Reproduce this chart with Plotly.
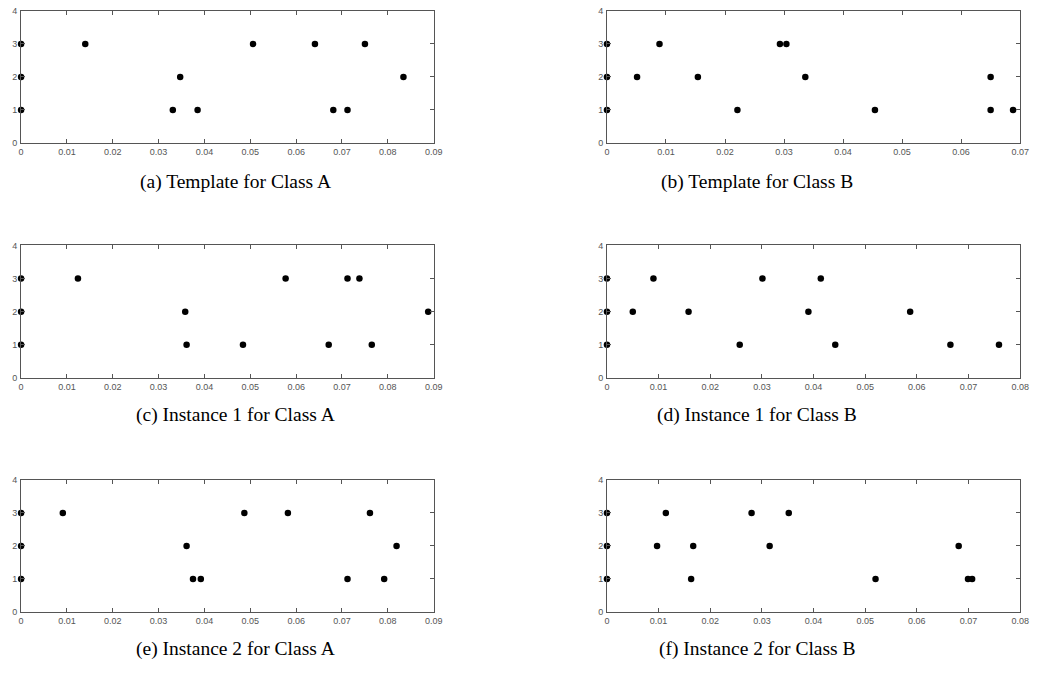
import plotly.graph_objects as go

W, H = 1042, 683

# ---- data (x values for each y level) ----
levels = [3, 2, 1]

a_x3 = [0.0, 0.0140, 0.0506, 0.0641, 0.0750]
a_x2 = [0.0, 0.0347, 0.0834]
a_x1 = [0.0, 0.0331, 0.0385, 0.0681, 0.0712]

b_x3 = [0.0, 0.0089, 0.0293, 0.0304]
b_x2 = [0.0, 0.0051, 0.0154, 0.0336, 0.0650]
b_x1 = [0.0, 0.0221, 0.0454, 0.0650, 0.0688]

c_x3 = [0.0, 0.0124, 0.0577, 0.0712, 0.0738]
c_x2 = [0.0, 0.0358, 0.0888]
c_x1 = [0.0, 0.0361, 0.0484, 0.0671, 0.0765]

d_x3 = [0.0, 0.0090, 0.0301, 0.0414]
d_x2 = [0.0, 0.0050, 0.0158, 0.0390, 0.0587]
d_x1 = [0.0, 0.0257, 0.0442, 0.0665, 0.0759]

e_x3 = [0.0, 0.0091, 0.0487, 0.0582, 0.0761]
e_x2 = [0.0, 0.0361, 0.0819]
e_x1 = [0.0, 0.0375, 0.0392, 0.0712, 0.0792]

f_x3 = [0.0, 0.0114, 0.0280, 0.0352]
f_x2 = [0.0, 0.0097, 0.0167, 0.0315, 0.0681]
f_x1 = [0.0, 0.0163, 0.0520, 0.0699, 0.0707]

x_max = [0.09, 0.07, 0.09, 0.08, 0.09, 0.08]
y_ticks = [0, 1, 2, 3, 4]
captions = ["(a) Template for Class A", "(b) Template for Class B",
            "(c) Instance 1 for Class A", "(d) Instance 1 for Class B",
            "(e) Instance 2 for Class A", "(f) Instance 2 for Class B"]

panels = [
    (a_x3, a_x2, a_x1), (b_x3, b_x2, b_x1),
    (c_x3, c_x2, c_x1), (d_x3, d_x2, d_x1),
    (e_x3, e_x2, e_x1), (f_x3, f_x2, f_x1),
]

# ---- layout geometry (pixels) ----
col_x = [(18.3, 435.7), (611.0, 1029.0)]
row_y = [(6.0, 140.0), (244.0, 378.5), (482.0, 616.0)]
cap_x = [235, 763]
cap_y = [180, 416, 654]

fig = go.Figure()
layout = dict(width=W, height=H, margin=dict(l=0, r=0, t=0, b=0),
              paper_bgcolor="white", plot_bgcolor="white", showlegend=False)

tick_font = dict(family="Liberation Sans, Arial, sans-serif", size=9, color="#555555")

for i, (xs3, xs2, xs1) in enumerate(panels):
    r, c = divmod(i, 2)
    n = i + 1
    xname = "x" if n == 1 else f"x{n}"
    yname = "y" if n == 1 else f"y{n}"
    xs = list(xs3) + list(xs2) + list(xs1)
    ys = [levels[0]] * len(xs3) + [levels[1]] * len(xs2) + [levels[2]] * len(xs1)
    fig.add_trace(go.Scatter(x=xs, y=ys, mode="markers", xaxis=xname, yaxis=yname,
                             marker=dict(color="black", size=6.5, line=dict(width=0)),
                             cliponaxis=False, hoverinfo="skip"))
    x0, x1 = col_x[c]
    ytop, ybot = row_y[r]
    nt = int(round(x_max[i] / 0.01))
    xt = [round(k * 0.01, 2) for k in range(nt + 1)]
    xtxt = ["0"] + [f"{v:.2f}" for v in xt[1:]]
    layout["xaxis" if n == 1 else f"xaxis{n}"] = dict(
        domain=[x0 / W, x1 / W], anchor=yname, range=[0, x_max[i]],
        showgrid=False, zeroline=False, showline=True, linecolor="#555555", linewidth=1,
        mirror="ticks", ticks="inside", ticklen=4, tickcolor="#555555",
        tickvals=xt, ticktext=xtxt, tickfont=tick_font, ticklabelstandoff=0)
    layout["yaxis" if n == 1 else f"yaxis{n}"] = dict(
        domain=[1 - ybot / H, 1 - ytop / H], anchor=xname, range=[0, 4],
        showgrid=False, zeroline=False, showline=True, linecolor="#555555", linewidth=1,
        mirror="ticks", ticks="inside", ticklen=4, tickcolor="#555555",
        tickvals=y_ticks, tickfont=tick_font, ticklabelstandoff=1)

annotations = []
for i, txt in enumerate(captions):
    r, c = divmod(i, 2)
    annotations.append(dict(text=txt, x=cap_x[c] / W, y=1 - cap_y[r] / H,
                            xref="paper", yref="paper", showarrow=False,
                            xanchor="center", yanchor="middle",
                            font=dict(family="Liberation Serif, DejaVu Serif, serif",
                                      size=19.5, color="black")))
layout["annotations"] = annotations
fig.update_layout(**layout)
fig.write_html("out.html",
               config={"displayModeBar": False, "responsive": False},
               post_script="document.body.style.margin='0';document.body.style.overflow='hidden';")
